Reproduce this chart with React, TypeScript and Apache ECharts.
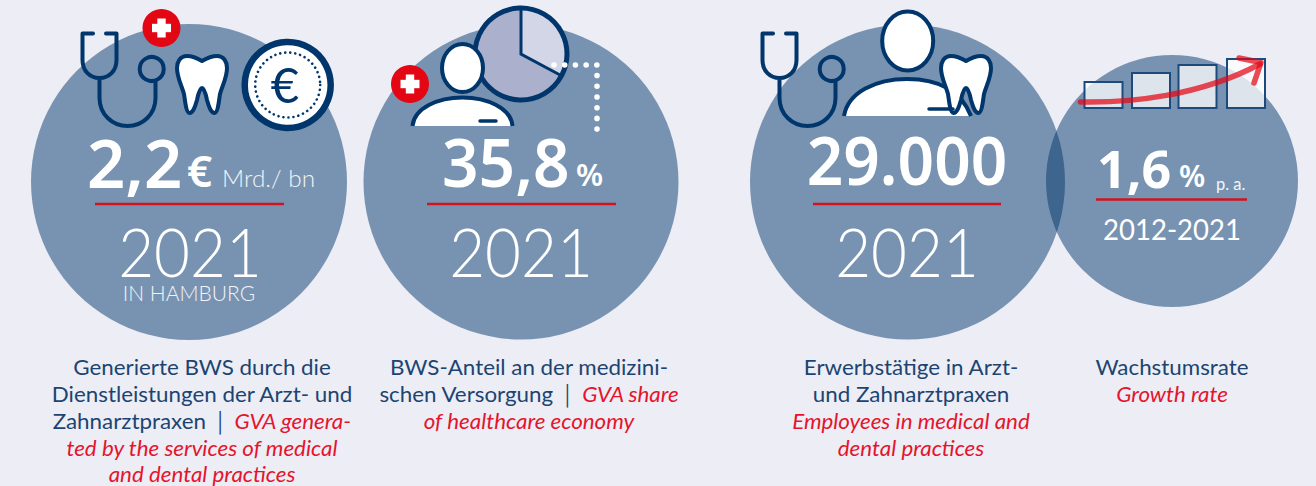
import React, { useEffect, useRef } from "react";
import * as echarts from "echarts";

const headlineValues = ["2,2", "35,8", "29.000", "1,6"];
const headlineUnits = ["€", "%", "", "%"];
const headlineNotes = ["Mrd./ bn", "", "", "p. a."];
const periods = ["2021", "2021", "2021", "2012-2021"];
const regionNote = "IN HAMBURG";
const captionOne = ["Generierte BWS durch die", "Dienstleistungen der Arzt- und"];
const captionOneMixed = ["Zahnarztpraxen │ ", "GVA genera-"];
const captionOneEnglish = ["ted by the services of medical", "and dental practices"];
const captionTwo = ["BWS-Anteil an der medizini-"];
const captionTwoMixed = ["schen Versorgung │ ", "GVA share"];
const captionTwoEnglish = ["of healthcare economy"];
const captionThree = ["Erwerbstätige in Arzt-", "und Zahnarztpraxen"];
const captionThreeEnglish = ["Employees in medical and", "dental practices"];
const captionFour = ["Wachstumsrate"];
const captionFourEnglish = ["Growth rate"];

const NAVY = "#00366b";
const RED = "#e30613";
const BG = "#ecedf5";
const CAP = "#1c4471";
const CAPRED = "#e5142c";
const SANS = "'Noto Sans', Lato, sans-serif";
const LIGHT = "Lato, 'Noto Sans', sans-serif";

const stethD =
  "M 93 33.5 L 82.5 33.5 L 82.5 60 C 82.5 71 90 78 99.5 78 C 109 78 116.5 71 116.5 60 L 116.5 33.5 L 106 33.5 M 99.5 78 L 99.5 98 C 99.5 114 112 126 127.5 126 C 143 126 155.5 114 155.5 98 L 155.5 81";
const toothD =
  "M 202 61 C 197 58 192 56 187 56 C 180 56 177 62 177 68 C 177 78 182 86 184 94 C 185 100 186 113 189.5 113 C 193 113 195 107 197 100 C 198 95 200 88 202 88 C 204 88 206 95 207 100 C 209 107 211 113 214.5 113 C 218 113 219 100 220 94 C 222 86 227 78 227 68 C 227 62 224 56 217 56 C 212 56 207 58 202 61 Z";
const shouldersD = "M 412.5 126 C 414 108 438 97.5 462.5 97.5 C 487 97.5 511 108 512.5 126";
const bigShouldersD = "M 844 116 C 848 92 876 79 907 79 C 936 79 960 88 971 116";
const arrowShaftD = "M 1080.5 102 C 1130 103 1200 96 1260 64";
const arrowHeadD = "M 1239 58 L 1261 62.5 L 1254 83";

echarts.graphic.registerShape("steth", echarts.graphic.extendPath(stethD, {}));
echarts.graphic.registerShape("tooth", echarts.graphic.extendPath(toothD, {}));
echarts.graphic.registerShape("shoulders", echarts.graphic.extendPath(shouldersD, {}));
echarts.graphic.registerShape("bigShoulders", echarts.graphic.extendPath(bigShouldersD, {}));
echarts.graphic.registerShape("arrowShaft", echarts.graphic.extendPath(arrowShaftD, {}));
echarts.graphic.registerShape("arrowHead", echarts.graphic.extendPath(arrowHeadD, {}));

const txt = (text: string, x: number, y: number, size: number, fill: string, opt: any = {}) => ({
  type: "text",
  x,
  y,
  scaleX: opt.scaleX ?? 1,
  z: opt.z ?? 20,
  style: {
    text,
    fill,
    font: `${opt.italic ? "italic " : ""}${opt.weight ?? 400} ${size}px ${opt.family ?? SANS}`,
    align: opt.align ?? "center",
    verticalAlign: "middle",
    ...(opt.lineHeight ? { lineHeight: opt.lineHeight } : {}),
  },
});

const disc = (cx: number, cy: number, r: number) => ({
  type: "circle",
  z: 1,
  shape: { cx, cy, r },
  style: { fill: NAVY, opacity: 0.49 },
});

const rule = (x1: number, x2: number, y: number) => ({
  type: "line",
  z: 15,
  shape: { x1, y1: y, x2, y2: y },
  style: { stroke: "#d2121f", lineWidth: 2.6 },
});

const badge = (cx: number, cy: number) => [
  { type: "circle", z: 12, shape: { cx, cy, r: 19 }, style: { fill: RED } },
  { type: "rect", z: 13, shape: { x: cx - 9.5, y: cy - 4.2, width: 19, height: 8.4 }, style: { fill: "#fff" } },
  { type: "rect", z: 13, shape: { x: cx - 4.2, y: cy - 9.5, width: 8.4, height: 19 }, style: { fill: "#fff" } },
];

const line = { stroke: NAVY, lineWidth: 4, lineCap: "round", lineJoin: "round" };

const stethoscope = (dx: number) => [
  { type: "steth", x: dx, y: 0, z: 5, style: { ...line, fill: "none" } },
  { type: "circle", z: 5, shape: { cx: 151.7 + dx, cy: 69, r: 12 }, style: { ...line, fill: "none" } },
];

const tooth = (dx: number) => ({
  type: "tooth",
  x: dx,
  y: 0,
  z: 8,
  style: { ...line, fill: "#fff" },
});

const barFill = "rgba(255,255,255,0.75)";
const bigYear = { family: LIGHT, weight: 300, scaleX: 0.91, lineHeight: 52 };

const graphics: any[] = [
  disc(189, 182, 158),
  disc(521, 182, 157.5),
  disc(907.5, 182, 157.5),
  disc(1172, 181, 126),

  ...stethoscope(0),
  tooth(0),
  { type: "circle", z: 8, shape: { cx: 287.7, cy: 85, r: 43 }, style: { fill: "#fff", stroke: NAVY, lineWidth: 6.5 } },
  { type: "circle", z: 9, shape: { cx: 287.7, cy: 85, r: 32.5 }, style: { fill: "none", stroke: NAVY, lineWidth: 2.6, lineCap: "round", lineDash: [0.01, 5] } },
  txt("€", 285, 84, 49, NAVY, { family: LIGHT, weight: 400, z: 10 }),
  ...badge(161.5, 28),

  { type: "circle", z: 5, shape: { cx: 521, cy: 54, r: 46 }, style: { fill: "#abb0cd" } },
  { type: "sector", z: 6, shape: { cx: 521, cy: 54, r: 46, startAngle: -Math.PI / 2, endAngle: 0.49 }, style: { fill: "#d2d6e7" } },
  { type: "polyline", z: 7, shape: { points: [[521, 9], [521, 54], [561, 75.5]] }, style: { stroke: NAVY, lineWidth: 3, fill: "none" } },
  { type: "circle", z: 7, shape: { cx: 521, cy: 54, r: 46 }, style: { fill: "none", stroke: NAVY, lineWidth: 5 } },
  { type: "polyline", z: 9, shape: { points: [[554, 65], [597, 65], [597, 137]] }, style: { stroke: "#fff", lineWidth: 5.6, lineCap: "round", lineDash: [0.01, 10.7], fill: "none" } },
  { type: "ellipse", z: 10, shape: { cx: 462.5, cy: 68, rx: 20.5, ry: 24 }, style: { ...line, fill: "#fff" } },
  { type: "shoulders", x: 0, y: 0, z: 10, style: { stroke: NAVY, lineWidth: 4, lineCap: "butt", fill: "#fff" } },
  { type: "line", z: 11, shape: { x1: 480, y1: 121, x2: 496, y2: 121 }, style: { ...line, lineWidth: 3.5 } },
  ...badge(410, 84),

  ...stethoscope(680),
  { type: "ellipse", z: 7, shape: { cx: 907.7, cy: 41, rx: 25.5, ry: 29.5 }, style: { ...line, fill: "#fff" } },
  { type: "bigShoulders", x: 0, y: 0, z: 7, style: { stroke: NAVY, lineWidth: 4, lineCap: "butt", fill: "#fff" } },
  tooth(764),
  { type: "line", z: 9, shape: { x1: 929, y1: 109, x2: 953, y2: 109 }, style: { ...line, lineWidth: 3.5 } },

  { type: "rect", z: 5, shape: { x: 1084.5, y: 82, width: 38, height: 26 }, style: { fill: barFill, stroke: "#1c4a7d", lineWidth: 2 } },
  { type: "rect", z: 5, shape: { x: 1132, y: 73, width: 38, height: 35 }, style: { fill: barFill, stroke: "#1c4a7d", lineWidth: 2 } },
  { type: "rect", z: 5, shape: { x: 1178.5, y: 65, width: 38, height: 43 }, style: { fill: barFill, stroke: "#1c4a7d", lineWidth: 2 } },
  { type: "rect", z: 5, shape: { x: 1227, y: 59, width: 38, height: 49 }, style: { fill: barFill, stroke: "#1c4a7d", lineWidth: 2 } },
  { type: "arrowShaft", x: 0, y: 0, z: 6, style: { stroke: RED, opacity: 0.72, lineWidth: 5.5, lineCap: "round", fill: "none" } },
  { type: "arrowHead", x: 0, y: 0, z: 6, style: { stroke: RED, opacity: 0.72, lineWidth: 5.5, lineCap: "round", lineJoin: "round", fill: "none" } },

  txt(headlineValues[0], 87, 162, 67, "#fff", { weight: 600, align: "left" }),
  txt(headlineUnits[0], 187, 170, 44, "#fff", { weight: 600, align: "left" }),
  txt(headlineNotes[0], 222, 178, 23, "#f0f3f7", { family: LIGHT, weight: 300, align: "left", scaleX: 1.06 }),
  rule(95, 284, 204),
  txt(periods[0], 190, 251, 68, "#fff", bigYear),
  txt(regionNote, 189, 292, 21, "#f0f3f7", { family: LIGHT, weight: 300 }),

  txt(headlineValues[1], 442, 162, 66, "#fff", { weight: 600, align: "left", scaleX: 0.97 }),
  txt(headlineUnits[1], 576, 174, 31, "#fff", { weight: 600, align: "left" }),
  rule(427, 616, 204),
  txt(periods[1], 521, 251, 68, "#fff", bigYear),

  txt(headlineValues[2], 907, 160, 66, "#fff", { weight: 600, scaleX: 0.97 }),
  rule(813, 1001, 204),
  txt(periods[2], 907, 251, 68, "#fff", bigYear),

  txt(headlineValues[3], 1097, 167, 52, "#fff", { weight: 700, align: "left" }),
  txt(headlineUnits[3], 1179, 175, 30, "#fff", { weight: 600, align: "left" }),
  txt(headlineNotes[3], 1216, 183, 17, "#f4f6f9", { family: LIGHT, weight: 400, align: "left", scaleX: 0.97 }),
  rule(1096, 1247, 199.5),
  txt(periods[3], 1172, 229, 29, "#fff", { family: LIGHT, weight: 400, scaleX: 0.95 }),
];

const capSize = 21.5;
const capScale = 1.04;
const capBlue = (t: string, x: number, y: number) => txt(t, x, y, capSize, CAP, { family: LIGHT, scaleX: capScale });
const capRed = (t: string, x: number, y: number) => txt(t, x, y, capSize, CAPRED, { family: LIGHT, italic: true, scaleX: capScale });
const mixed = (parts: string[], x: number, y: number) => ({
  type: "text",
  x,
  y,
  scaleX: capScale,
  z: 20,
  style: {
    text: `{a|${parts[0]}}{b|${parts[1]}}`,
    align: "center",
    verticalAlign: "middle",
    rich: {
      a: { fill: CAP, font: `400 ${capSize}px ${LIGHT}` },
      b: { fill: CAPRED, font: `italic 400 ${capSize}px ${LIGHT}` },
    },
  },
});

const lineYs = [366.5, 393.5, 420.5, 447.5, 474];
graphics.push(
  capBlue(captionOne[0], 202, lineYs[0]),
  capBlue(captionOne[1], 202, lineYs[1]),
  mixed(captionOneMixed, 202, lineYs[2]),
  capRed(captionOneEnglish[0], 202, lineYs[3]),
  capRed(captionOneEnglish[1], 202, lineYs[4]),
  capBlue(captionTwo[0], 529, lineYs[0]),
  mixed(captionTwoMixed, 529, lineYs[1]),
  capRed(captionTwoEnglish[0], 529, lineYs[2]),
  capBlue(captionThree[0], 911, lineYs[0]),
  capBlue(captionThree[1], 911, lineYs[1]),
  capRed(captionThreeEnglish[0], 911, lineYs[2]),
  capRed(captionThreeEnglish[1], 911, lineYs[3]),
  capBlue(captionFour[0], 1172, lineYs[0]),
  capRed(captionFourEnglish[0], 1172, lineYs[1]),
);

export default function App() {
  const ref = useRef<HTMLDivElement>(null);
  useEffect(() => {
    if (!ref.current) return;
    const chart = echarts.init(ref.current, undefined, { renderer: "svg" });
    chart.setOption({
      animation: false,
      backgroundColor: BG,
      graphic: { elements: graphics },
    });
    return () => chart.dispose();
  }, []);
  return <div ref={ref} style={{ position: "absolute", left: 0, top: 0, width: 1316, height: 486 }} />;
}
